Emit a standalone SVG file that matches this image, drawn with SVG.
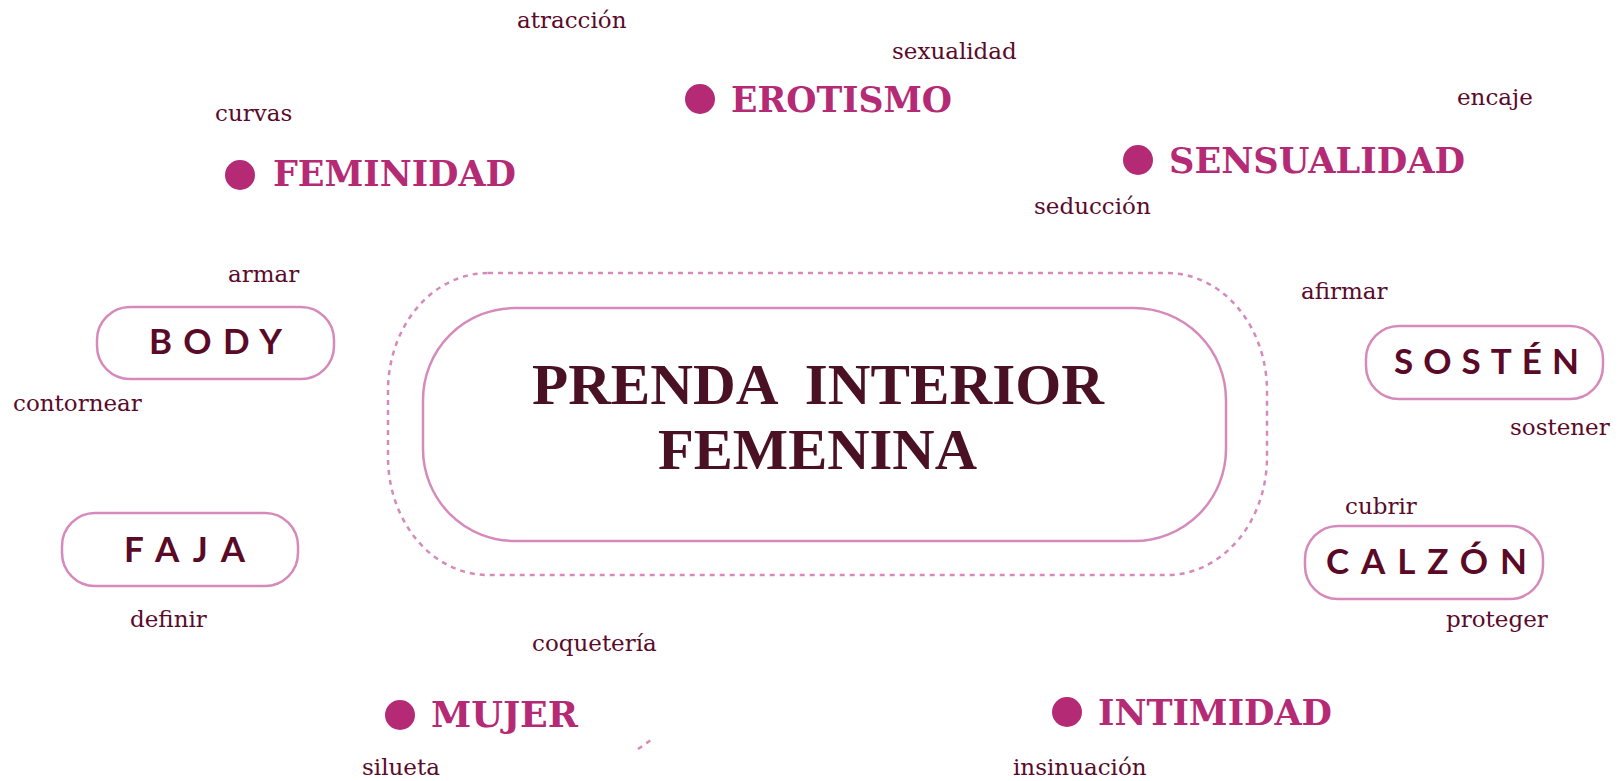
<svg xmlns="http://www.w3.org/2000/svg" width="1621" height="781" viewBox="0 0 1621 781">
<style>
.bg{fill:#ffffff}
.box{fill:#ffffff;stroke:#d68abb;stroke-width:2.5}
.core{fill:#ffffff;stroke:#d68abb;stroke-width:2.5}
.halo{fill:none;stroke:#d68abb;stroke-width:2.5;stroke-dasharray:5 5}
.title{font-family:"Liberation Serif","Times New Roman",serif;font-weight:700;font-size:57px;fill:#4a1024;white-space:pre}
.lbl{font-family:Lato,"Liberation Sans",sans-serif;font-weight:700;font-size:35px;fill:#5a0a26}
.cat{font-family:"DejaVu Serif","Liberation Serif",serif;font-weight:700;font-size:35px;fill:#b52a75}
.dot{fill:#b52a75}
.word{font-family:"DejaVu Serif","Liberation Serif",serif;font-size:23px;fill:#5a0a2a}
.frag{fill:none;stroke:#d68abb;stroke-width:2.5;stroke-dasharray:5 5}
</style>
<rect class="bg" x="0" y="0" width="1621" height="781"/>

<g id="connectors">
  <line class="frag" x1="638" y1="749" x2="651" y2="740"/>
</g>

<g id="center">
  <rect class="halo" x="388" y="273" width="879" height="302" rx="100" ry="118"/>
  <rect class="core" x="423" y="308" width="803" height="233" rx="92" ry="92"/>
  <text class="title" x="532" y="404" textLength="572" lengthAdjust="spacingAndGlyphs" xml:space="preserve">PRENDA  INTERIOR</text>
  <text class="title" x="658" y="469" textLength="319" lengthAdjust="spacingAndGlyphs">FEMENINA</text>
</g>

<g id="node-body">
  <rect class="box" x="97" y="307" width="237" height="72" rx="33"/>
  <text class="lbl" x="149" y="354" textLength="133" lengthAdjust="spacing">BODY</text>
</g>
<g id="node-sosten">
  <rect class="box" x="1366" y="326" width="237" height="73" rx="33"/>
  <text class="lbl" x="1394" y="374" textLength="185" lengthAdjust="spacing">SOSTÉN</text>
</g>
<g id="node-faja">
  <rect class="box" x="62" y="513" width="236" height="73" rx="33"/>
  <text class="lbl" x="124" y="562" textLength="121" lengthAdjust="spacing">FAJA</text>
</g>
<g id="node-calzon">
  <rect class="box" x="1305" y="526" width="238" height="73" rx="33"/>
  <text class="lbl" x="1326" y="574" textLength="201" lengthAdjust="spacing">CALZÓN</text>
</g>

<g id="node-erotismo">
  <circle class="dot" cx="700" cy="99" r="15"/>
  <text class="cat" x="731" y="112" textLength="221" lengthAdjust="spacingAndGlyphs">EROTISMO</text>
</g>
<g id="node-feminidad">
  <circle class="dot" cx="240" cy="175" r="15"/>
  <text class="cat" x="273" y="186" textLength="243" lengthAdjust="spacingAndGlyphs">FEMINIDAD</text>
</g>
<g id="node-sensualidad">
  <circle class="dot" cx="1138" cy="160" r="15"/>
  <text class="cat" x="1169" y="173" textLength="296" lengthAdjust="spacingAndGlyphs">SENSUALIDAD</text>
</g>
<g id="node-mujer">
  <circle class="dot" cx="400" cy="715" r="15"/>
  <text class="cat" x="431" y="727" textLength="147" lengthAdjust="spacingAndGlyphs">MUJER</text>
</g>
<g id="node-intimidad">
  <circle class="dot" cx="1067" cy="712" r="15"/>
  <text class="cat" x="1098" y="725" textLength="234" lengthAdjust="spacingAndGlyphs">INTIMIDAD</text>
</g>

<g id="words">
  <text class="word" x="517" y="28">atracción</text>
  <text class="word" x="892" y="59">sexualidad</text>
  <text class="word" x="215" y="121">curvas</text>
  <text class="word" x="1457" y="105">encaje</text>
  <text class="word" x="1034" y="214">seducción</text>
  <text class="word" x="228" y="282">armar</text>
  <text class="word" x="1301" y="299">afirmar</text>
  <text class="word" x="13" y="411">contornear</text>
  <text class="word" x="1510" y="435">sostener</text>
  <text class="word" x="1345" y="514">cubrir</text>
  <text class="word" x="130" y="627">definir</text>
  <text class="word" x="1446" y="627">proteger</text>
  <text class="word" x="532" y="651">coquetería</text>
  <text class="word" x="362" y="775">silueta</text>
  <text class="word" x="1013" y="775">insinuación</text>
</g>
</svg>
